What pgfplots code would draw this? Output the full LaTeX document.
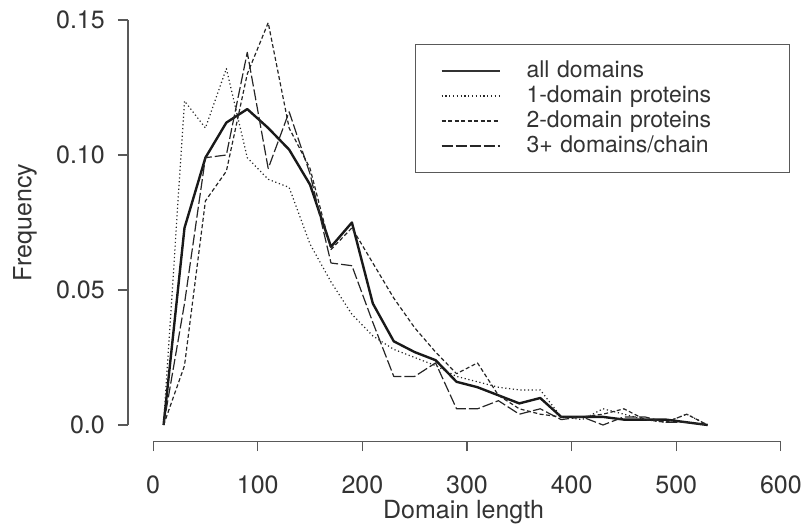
\documentclass[border=0pt]{standalone}
\usepackage{fontspec}
\setmainfont{TeX Gyre Heros}
\usepackage{pgfplots}
\usepackage{pgfplotstable}
\pgfplotsset{compat=1.18}

% frequency of domain lengths, bins of 20 residues
\pgfplotstableread{
len all   one   two   three
10  0     0     0     0
30  0.073 0.120 0.022 0.045
50  0.099 0.110 0.083 0.099
70  0.112 0.132 0.094 0.100
90  0.117 0.099 0.130 0.138
110 0.110 0.091 0.149 0.095
130 0.102 0.088 0.110 0.116
150 0.089 0.067 0.095 0.093
170 0.066 0.053 0.065 0.060
190 0.075 0.041 0.073 0.059
210 0.045 0.033 0.060 0.038
230 0.031 0.028 0.047 0.018
250 0.027 0.025 0.036 0.018
270 0.024 0.022 0.027 0.023
290 0.016 0.018 0.019 0.006
310 0.014 0.016 0.023 0.006
330 0.011 0.014 0.011 0.009
350 0.008 0.013 0.006 0.004
370 0.010 0.013 0.004 0.006
390 0.003 0.003 0.003 0.002
410 0.003 0.002 0.003 0.003
430 0.003 0.006 0.004 0.000
450 0.002 0.004 0.006 0.003
470 0.002 0.002 0.002 0.003
490 0.002 0.001 0.001 0.001
510 0.001 0.004 0.004 0.001
530 0     0     0     0
}\domlen

\begin{document}
\begin{tikzpicture}
\useasboundingbox (-128pt,-88.8pt) rectangle (682pt,441.2pt);
\begin{axis}[
    at={(0pt,0pt)}, anchor=south west,
    scale only axis,
    width=678pt, height=437.4pt,
    xmin=-24, xmax=624,
    ymin=-0.006, ymax=0.156,
    clip=false,
    axis x line*=bottom, axis y line*=left,
    axis line style={draw=none,-},
    xtick={0,100,200,300,400,500,600},
    xticklabels={0,100,200,300,400,500,600},
    ytick={0,0.05,0.10,0.15},
    yticklabels={0.0,0.05,0.10,0.15},
    tick align=outside,
    major tick length=10pt,
    tick style={black!65, line width=1.1pt},
    tick label style={font=\fontsize{25}{25}\selectfont, text=black!80, inner sep=0pt},
    xticklabel style={yshift=-8pt},
    xticklabel shift=16.8pt,
    yticklabel shift=13pt,
    xlabel={Domain length},
    ylabel={Frequency},
    every axis x label/.style={at={(axis description cs:0.495,-0.1756)}, anchor=base,
        font=\fontsize{25}{25}\selectfont, text=black!80},
    every axis y label/.style={at={(axis description cs:-0.152,0.5)}, anchor=center, rotate=90,
        font=\fontsize{25}{25}\selectfont, text=black!80},
    legend style={at={(axis description cs:0.4233,0.9081)}, anchor=north west,
        draw=black!65, line width=1.1pt, inner xsep=0pt, inner ysep=15.5pt,
        row sep=3pt, font=\fontsize{23}{23}\selectfont, text=black!80,
        nodes={inner sep=0pt, text height=17pt, text depth=5pt, text width=263pt}},
    legend cell align=left,
    legend image code/.code={
        \path[draw=none] (0pt,0pt) -- (111pt,0pt);
        \draw[#1] (26pt,0pt) -- (84pt,0pt);
    },
]
\addlegendimage{black!80, line width=1.3pt}
\addlegendentry{all domains}
\addplot[black!90, line width=2.4pt, line join=round, mark=none, forget plot]
    table[x=len, y=all] {\domlen};
\addplot[black!85, line width=1.2pt, line join=round, mark=none, dash pattern=on 1.2pt off 2.6pt]
    table[x=len, y=one] {\domlen};
\addlegendentry{1-domain proteins}
\addplot[black!85, line width=1.2pt, line join=round, mark=none, dash pattern=on 4pt off 2.5pt]
    table[x=len, y=two] {\domlen};
\addlegendentry{2-domain proteins}
\addplot[black!85, line width=1.2pt, line join=round, mark=none, dash pattern=on 11pt off 3pt]
    table[x=len, y=three] {\domlen};
\addlegendentry{3+ domains/chain}

% R-style detached axis lines
\draw[black!65, line width=1.1pt] (axis cs:0,-0.006) -- (axis cs:600,-0.006);
\draw[black!65, line width=1.1pt] (axis cs:-24,0) -- (axis cs:-24,0.15);
\end{axis}
\end{tikzpicture}
\end{document}
